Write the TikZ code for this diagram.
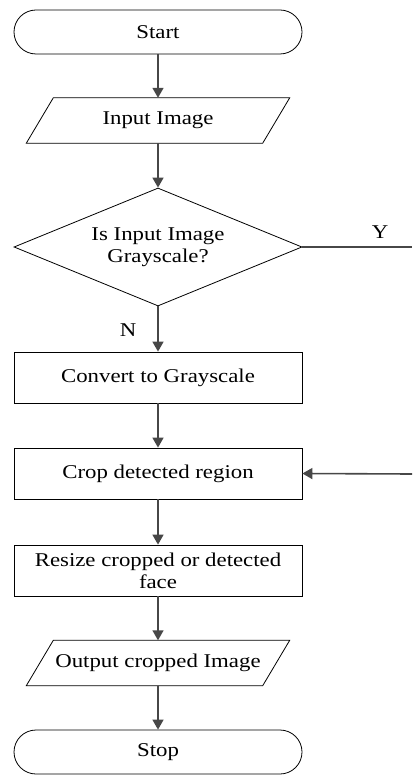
\documentclass[tikz,border=0pt]{standalone}
\usepackage{fontspec}
\setmainfont{Liberation Serif}[FakeStretch=1.17]
\usetikzlibrary{shapes.geometric,arrows.meta}
\definecolor{arr}{HTML}{474747}
\tikzset{
  base/.style={font=\fontsize{19.5}{22}\selectfont, align=center, inner sep=0pt},
  term/.style={base, draw, line width=0.8pt, rounded corners=22pt, minimum width=288pt, minimum height=44pt},
  proc/.style={base, draw, line width=0.8pt, minimum width=288pt, minimum height=51pt},
  ioshape/.style={base, minimum width=236pt, minimum height=45pt},
  decide/.style={base, draw, line width=0.8pt, diamond, minimum width=288pt, minimum height=118pt, shape aspect=2.44},
  flow/.style={draw=arr, line width=1.6pt, -{Triangle[length=10pt,width=11pt]}},
  plain/.style={draw=arr, line width=1.6pt},
  lbl/.style={font=\fontsize{19.5}{22}\selectfont, inner sep=0pt}
}
\begin{document}
\begin{tikzpicture}[x=1pt,y=-1pt]
\useasboundingbox (0,0) rectangle (412,775);
\node[term] (start) at (158,32) {Start};
\node[ioshape] (in) at (158,120.5) {Input Image};
\draw[line width=0.8pt] ([xshift=13.5pt]in.north west) -- ([xshift=13.5pt]in.north east) -- ([xshift=-13.5pt]in.south east) -- ([xshift=-13.5pt]in.south west) -- cycle;
\node[decide] (dec) at (158,247) {Is Input Image\\Grayscale?};
\node[proc] (conv) at (158,377.5) {Convert to Grayscale};
\node[proc] (crop) at (158,473.5) {Crop detected region};
\node[proc] (res) at (158,570.5) {Resize cropped or detected\\face};
\node[ioshape] (out) at (158,663) {Output cropped Image};
\draw[line width=0.8pt] ([xshift=13.5pt]out.north west) -- ([xshift=13.5pt]out.north east) -- ([xshift=-13.5pt]out.south east) -- ([xshift=-13.5pt]out.south west) -- cycle;
\node[term] (stop) at (158,752) {Stop};
\coordinate (yend) at (412,247);
\coordinate (back) at (412,474);
\node[lbl] (ylab) at (380,232) {Y};
\node[lbl] (nlab) at (128,330) {N};
\path[flow] (start) -- (in);
\path[flow] (in) -- (dec);
\path[flow] (dec) -- (conv);
\path[flow] (conv) -- (crop);
\path[flow] (crop) -- (res);
\path[flow] (res) -- (out);
\path[flow] (out) -- (stop);
\path[plain] (dec.east) -- (yend);
\path[flow] (back) -- (crop.east);
\end{tikzpicture}
\end{document}
